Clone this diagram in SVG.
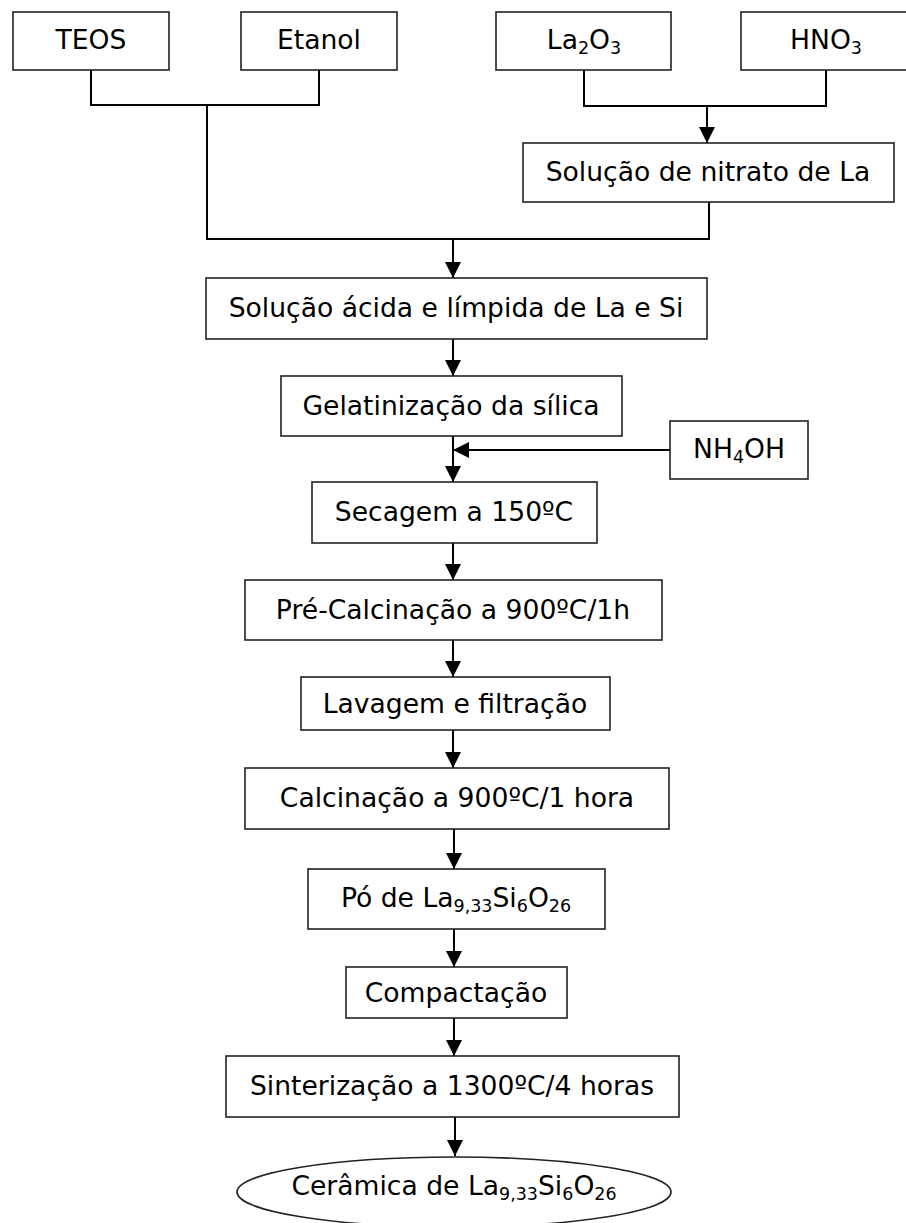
<svg xmlns="http://www.w3.org/2000/svg" width="906" height="1223" viewBox="0 0 906 1223">
  <style>
    .box { fill: #fff; stroke: #222; stroke-width: 1.6; }
    .lbl { font-family: "DejaVu Sans", Verdana, sans-serif; font-size: 26.6px; fill: #000; text-anchor: middle; }
    .sub { font-size: 17.5px; }
    .wire { fill: none; stroke: #000; stroke-width: 2; }
  </style>
  <defs>
    <marker id="arrow" viewBox="0 0 16 16" refX="16" refY="8" markerWidth="16" markerHeight="16" markerUnits="userSpaceOnUse" orient="auto">
      <path d="M0,0 L16,8 L0,16 Z" fill="#000"/>
    </marker>
  </defs>

  <!-- connectors -->
  <g id="connectors">
    <polyline class="wire" points="91,70 91,105 319,105 319,70"/>
    <polyline class="wire" points="207,105 207,239 709,239 709,202"/>
    <polyline class="wire" points="584,70 584,106 826,106 826,70"/>
    <line class="wire" x1="707" y1="106" x2="707" y2="143" marker-end="url(#arrow)"/>
    <line class="wire" x1="453" y1="239" x2="453" y2="278" marker-end="url(#arrow)"/>
    <line class="wire" x1="453" y1="339" x2="453" y2="376" marker-end="url(#arrow)"/>
    <line class="wire" x1="453" y1="436" x2="453" y2="482" marker-end="url(#arrow)"/>
    <line class="wire" x1="670" y1="450" x2="453" y2="450" marker-end="url(#arrow)"/>
    <line class="wire" x1="453" y1="543" x2="453" y2="580" marker-end="url(#arrow)"/>
    <line class="wire" x1="453" y1="640" x2="453" y2="677" marker-end="url(#arrow)"/>
    <line class="wire" x1="453" y1="730" x2="453" y2="768" marker-end="url(#arrow)"/>
    <line class="wire" x1="454" y1="829" x2="454" y2="869" marker-end="url(#arrow)"/>
    <line class="wire" x1="454" y1="929" x2="454" y2="967" marker-end="url(#arrow)"/>
    <line class="wire" x1="454" y1="1018" x2="454" y2="1056" marker-end="url(#arrow)"/>
    <line class="wire" x1="455" y1="1117" x2="455" y2="1156" marker-end="url(#arrow)"/>
  </g>

  <g id="teos">
    <rect class="box" x="13" y="12" width="156" height="58"/>
    <text class="lbl" x="91" y="49">TEOS</text>
  </g>
  <g id="etanol">
    <rect class="box" x="241" y="12" width="156" height="58"/>
    <text class="lbl" x="319" y="49">Etanol</text>
  </g>
  <g id="la2o3">
    <rect class="box" x="496" y="12" width="175" height="58"/>
    <text class="lbl" x="584" y="49">La<tspan class="sub" dy="5">2</tspan><tspan dy="-5">O</tspan><tspan class="sub" dy="5">3</tspan></text>
  </g>
  <g id="hno3">
    <rect class="box" x="741" y="12" width="170" height="58"/>
    <text class="lbl" x="826" y="49">HNO<tspan class="sub" dy="5">3</tspan></text>
  </g>
  <g id="nitrato">
    <rect class="box" x="523" y="143" width="371" height="59"/>
    <text class="lbl" x="708" y="181">Solução de nitrato de La</text>
  </g>
  <g id="solucao">
    <rect class="box" x="206" y="278" width="501" height="61"/>
    <text class="lbl" x="456" y="317">Solução ácida e límpida de La e Si</text>
  </g>
  <g id="gelatinizacao">
    <rect class="box" x="281" y="376" width="341" height="60"/>
    <text class="lbl" x="451" y="415">Gelatinização da sílica</text>
  </g>
  <g id="nh4oh">
    <rect class="box" x="670" y="421" width="138" height="58"/>
    <text class="lbl" x="739" y="458">NH<tspan class="sub" dy="5">4</tspan><tspan dy="-5">OH</tspan></text>
  </g>
  <g id="secagem">
    <rect class="box" x="312" y="482" width="285" height="61"/>
    <text class="lbl" x="454" y="521">Secagem a 150ºC</text>
  </g>
  <g id="precalcinacao">
    <rect class="box" x="245" y="580" width="417" height="60"/>
    <text class="lbl" x="453" y="619">Pré-Calcinação a 900ºC/1h</text>
  </g>
  <g id="lavagem">
    <rect class="box" x="301" y="677" width="309" height="53"/>
    <text class="lbl" x="455" y="713">Lavagem e filtração</text>
  </g>
  <g id="calcinacao">
    <rect class="box" x="245" y="768" width="424" height="61"/>
    <text class="lbl" x="457" y="807">Calcinação a 900ºC/1 hora</text>
  </g>
  <g id="po">
    <rect class="box" x="308" y="869" width="297" height="60"/>
    <text class="lbl" x="456" y="907">Pó de La<tspan class="sub" dy="5">9,33</tspan><tspan dy="-5">Si</tspan><tspan class="sub" dy="5">6</tspan><tspan dy="-5">O</tspan><tspan class="sub" dy="5">26</tspan></text>
  </g>
  <g id="compactacao">
    <rect class="box" x="346" y="967" width="221" height="51"/>
    <text class="lbl" x="456" y="1002">Compactação</text>
  </g>
  <g id="sinterizacao">
    <rect class="box" x="226" y="1056" width="453" height="61"/>
    <text class="lbl" x="452" y="1095">Sinterização a 1300ºC/4 horas</text>
  </g>
  <g id="ceramica">
    <ellipse class="box" cx="454" cy="1192" rx="217" ry="35" stroke-width="1.2"/>
    <text class="lbl" x="454" y="1195">Cerâmica de La<tspan class="sub" dy="5">9,33</tspan><tspan dy="-5">Si</tspan><tspan class="sub" dy="5">6</tspan><tspan dy="-5">O</tspan><tspan class="sub" dy="5">26</tspan></text>
  </g>
</svg>
